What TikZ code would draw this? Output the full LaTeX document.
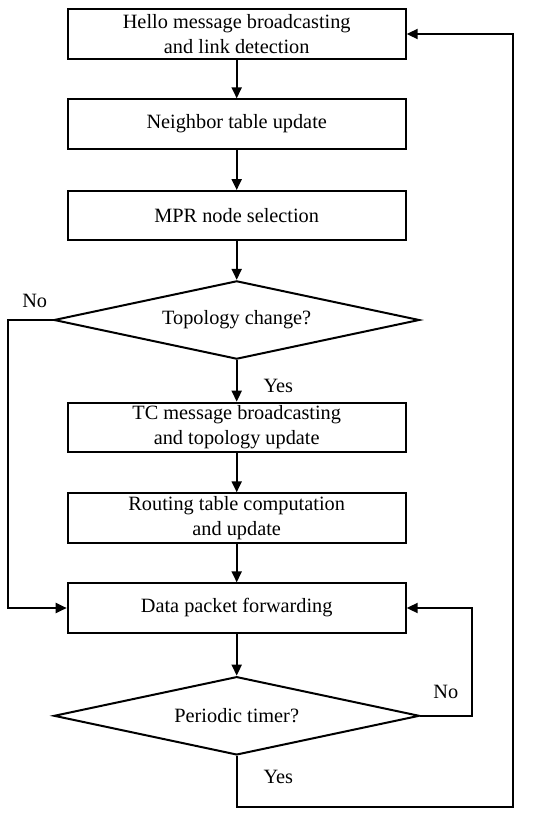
\documentclass[tikz,border=0pt]{standalone}
\usepackage{fontspec}
\setmainfont{Liberation Serif}
\usetikzlibrary{shapes.geometric,arrows.meta}
\begin{document}
\begin{tikzpicture}[x=1pt,y=-1pt,
  every node/.style={font=\fontsize{20.3}{25}\selectfont},
  box/.style={draw,line width=2pt,minimum width=338pt,minimum height=49.3pt,inner sep=0pt,align=center},
  dec/.style={draw,line width=2pt,diamond,minimum width=365.5pt,minimum height=78.3pt,inner sep=0pt,aspect=4.67},
  arr/.style={line width=2pt,-{Triangle[length=11pt,width=10pt]}},
  lbl/.style={inner sep=0pt}]
\useasboundingbox (0,0) rectangle (550,817);
\node[box] (b1) at (236.7,34) {Hello message broadcasting\\and link detection};
\node[box] (b2) at (236.7,124) {Neighbor table update};
\node[box] (b3) at (236.7,215.7) {MPR node selection};
\node[dec] (d1) at (236.7,320) {Topology change?};
\node[box] (b4) at (236.7,427.3) {TC message broadcasting\\and topology update};
\node[box,minimum height=50pt] (b5) at (236.7,518.3) {Routing table computation\\and update};
\node[box] (b6) at (236.7,608) {Data packet forwarding};
\node[dec] (d2) at (236.7,715.8) {Periodic timer?};

\coordinate (L1) at (8.3,320);
\coordinate (R1) at (513.3,807.3);
\coordinate (R2) at (471.7,715.8);

\draw[arr] (b1) -- (b2);
\draw[arr] (b2) -- (b3);
\draw[arr] (b3) -- (d1);
\draw[arr] (d1) -- (b4);
\draw[arr] (b4) -- (b5);
\draw[arr] (b5) -- (b6);
\draw[arr] (b6) -- (d2);
\draw[arr] (d1.west) -- (L1) |- (b6.west);
\draw[arr] (d2.east) -- (R2) |- (b6.east);
\draw[arr] (d2.south) |- (R1) |- (b1.east);

\node[lbl] (no1) at (34.7,301) {No};
\node[lbl] (yes1) at (278.3,386) {Yes};
\node[lbl] (no2) at (445.8,692) {No};
\node[lbl] (yes2) at (278.3,777) {Yes};
\end{tikzpicture}
\end{document}
